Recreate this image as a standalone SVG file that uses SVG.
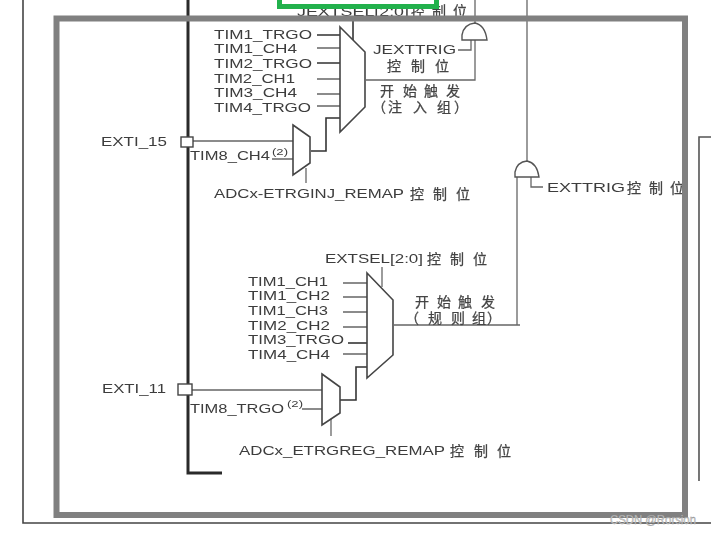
<svg xmlns="http://www.w3.org/2000/svg" width="711" height="533" viewBox="0 0 711 533">
<style>
text{font-family:"Liberation Sans","Noto Sans CJK SC",sans-serif;fill:#3c3c3c;font-size:13px}
.c{font-family:"Noto Sans CJK SC","Liberation Sans",sans-serif;font-size:14px;fill:#444;stroke:#444;stroke-width:0.25}
.s{font-size:9px}
.l{fill:none;stroke:#666;stroke-width:1.3}
.d{fill:none;stroke:#333;stroke-width:1.6}
.m{fill:#fff;stroke:#444;stroke-width:1.6}
.g{fill:#fff;stroke:#555;stroke-width:1.4}
.b{fill:#fff;stroke:#444;stroke-width:1.4}
</style>
<defs><filter id="soft" x="-2%" y="-2%" width="104%" height="104%"><feGaussianBlur stdDeviation="0.35"/></filter></defs>
<rect width="711" height="533" fill="#fff"/>
<g filter="url(#soft)">
<g id="connectors">
<path d="M188 0V473H222" fill="none" stroke="#2b2b2b" stroke-width="3"/>
<path fill="none" stroke="#444" stroke-width="1.6" d="M23 0V523H711"/>
<path fill="none" stroke="#555" stroke-width="1.6" d="M699 481V137H711"/>
<path class="l" d="M475 0V23M475 40V80H366"/>
<path class="d" d="M353 21V40"/>
<path class="l" d="M471 40V50H458"/>
<path class="l" d="M527 0V162"/>
<path class="l" d="M517 177V325M394 325H520"/>
<path class="l" d="M531 177V187H543"/>
<path class="d" d="M317 35H340M317 63H340"/>
<path class="l" d="M317 48H340M317 79H340M317 94H340M317 106H340"/>
<path class="l" d="M192 141H293M272 159H293"/>
<path class="d" d="M311 151H326V118H340"/>
<path class="l" d="M306 168V183"/>
<path class="l" d="M343 283H367M343 297H367M343 312H367M343 327H367M343 354H367"/>
<path class="d" d="M348 343H367"/>
<path class="l" d="M382 267V287"/>
<path class="l" d="M192 390H322M302 409H322"/>
<path class="d" d="M340 400H356V367H367"/>
<path class="l" d="M331 415V436"/>
</g>
<g id="mux-inj"><path class="m" d="M340 27L365 52V107L340 132Z"/></g>
<g id="mux-inj-remap"><path class="m" d="M293 125L310 137V163L293 175Z"/></g>
<g id="mux-reg"><path class="m" d="M367 273L393 300V355L367 378Z"/></g>
<g id="mux-reg-remap"><path class="m" d="M322 374L340 387V413L322 425Z"/></g>
<g id="and-inj"><path class="g" d="M462 40V35Q464 24 475 23Q485 25 487 40Z"/></g>
<g id="and-reg"><path class="g" d="M515 177V172Q517 162 527 161Q537 163 539 177Z"/></g>
<g id="exti15"><rect class="b" x="181" y="137" width="12" height="10"/><text x="101" y="146" textLength="66" lengthAdjust="spacingAndGlyphs">EXTI_15</text></g>
<g id="exti11"><rect class="b" x="178" y="384" width="14" height="11"/><text x="102" y="393" textLength="64" lengthAdjust="spacingAndGlyphs">EXTI_11</text></g>
<g id="labels-inj">
<text x="214" y="39" textLength="98" lengthAdjust="spacingAndGlyphs">TIM1_TRGO</text>
<text x="214" y="53" textLength="83" lengthAdjust="spacingAndGlyphs">TIM1_CH4</text>
<text x="214" y="68" textLength="98" lengthAdjust="spacingAndGlyphs">TIM2_TRGO</text>
<text x="214" y="83" textLength="81" lengthAdjust="spacingAndGlyphs">TIM2_CH1</text>
<text x="214" y="97" textLength="83" lengthAdjust="spacingAndGlyphs">TIM3_CH4</text>
<text x="214" y="111.500" textLength="97" lengthAdjust="spacingAndGlyphs">TIM4_TRGO</text>
<text x="373" y="54" textLength="83" lengthAdjust="spacingAndGlyphs">JEXTTRIG</text>
<text class="c" x="387 411 435" y="71">控制位</text>
<text class="c"><tspan x="380 403 424 446" y="96">开始触发</tspan><tspan x="372 388 413 437 454" y="112">（注入组）</tspan></text>
<text x="190" y="160" textLength="80" lengthAdjust="spacingAndGlyphs">TIM8_CH4</text>
<text class="s" x="272" y="155" textLength="16" lengthAdjust="spacingAndGlyphs">(2)</text>
<text x="214" y="198" textLength="190" lengthAdjust="spacingAndGlyphs">ADCx-ETRGINJ_REMAP</text>
<text class="c" x="410 433 456" y="199">控制位</text>
<text x="297" y="16" textLength="112" lengthAdjust="spacingAndGlyphs">JEXTSEL[2:0]</text>
<text class="c" x="411 432 453" y="16">控制位</text>
</g>
<g id="labels-reg">
<text x="325" y="263" textLength="98" lengthAdjust="spacingAndGlyphs">EXTSEL[2:0]</text>
<text class="c" x="427 450 473" y="264">控制位</text>
<text x="248" y="286" textLength="80" lengthAdjust="spacingAndGlyphs">TIM1_CH1</text>
<text x="248" y="300" textLength="82" lengthAdjust="spacingAndGlyphs">TIM1_CH2</text>
<text x="248" y="315" textLength="80" lengthAdjust="spacingAndGlyphs">TIM1_CH3</text>
<text x="248" y="330" textLength="82" lengthAdjust="spacingAndGlyphs">TIM2_CH2</text>
<text x="248" y="344" textLength="96" lengthAdjust="spacingAndGlyphs">TIM3_TRGO</text>
<text x="248" y="359" textLength="82" lengthAdjust="spacingAndGlyphs">TIM4_CH4</text>
<text class="c"><tspan x="415 437 458 481" y="307">开始触发</tspan><tspan x="405 428 451 472 487" y="323">（规则组）</tspan></text>
<text x="190" y="413" textLength="94" lengthAdjust="spacingAndGlyphs">TIM8_TRGO</text>
<text class="s" x="287" y="407" textLength="16" lengthAdjust="spacingAndGlyphs">(2)</text>
<text x="239" y="455" textLength="206" lengthAdjust="spacingAndGlyphs">ADCx_ETRGREG_REMAP</text>
<text class="c" x="450 474 497" y="456">控制位</text>
<text x="547" y="192" textLength="78" lengthAdjust="spacingAndGlyphs">EXTTRIG</text>
<text class="c" x="627 649 670" y="193">控制位</text>
</g>
</g>
<g id="frames">
<rect x="56.500" y="18.500" width="628.500" height="496.500" fill="none" stroke="#808080" stroke-width="6"/>
<rect x="279.500" y="-5" width="157" height="11.500" fill="none" stroke="#22b14c" stroke-width="5"/>
</g>
<text x="610" y="524" textLength="86" lengthAdjust="spacingAndGlyphs" style="font-size:12px;fill:#d0d0d0;stroke:#8a8a8a;stroke-width:0.3">CSDN @Rorsion</text>
</svg>
